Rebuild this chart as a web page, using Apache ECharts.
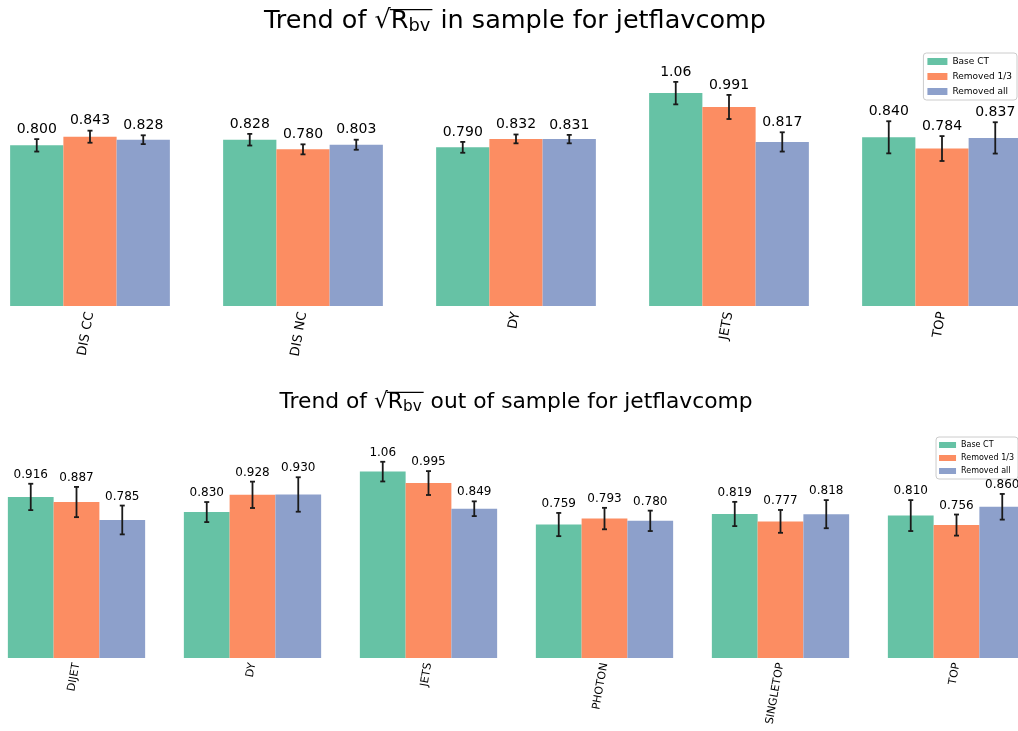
<!DOCTYPE html>
<html><head><meta charset="utf-8">
<script src="https://cdn.jsdelivr.net/npm/echarts@6/dist/echarts.min.js"></script>
<style>html,body{margin:0;padding:0;background:#fff;overflow:hidden;width:1018px;height:731px}
#c{position:absolute;left:-17px;top:0;width:1069px;height:731px}</style>
</head><body><div id="c"></div>
<script>
// ---------- data ----------
const seriesNames = ['Base CT', 'Removed 1/3', 'Removed all'];
const colors = ['#66c2a5', '#fc8d62', '#8da0cb'];

const inCategories = ['DIS CC', 'DIS NC', 'DY', 'JETS', 'TOP'];
const inBase   = [0.800, 0.828, 0.790, 1.06, 0.840];
const inRem13  = [0.843, 0.780, 0.832, 0.991, 0.784];
const inRemAll = [0.828, 0.803, 0.831, 0.817, 0.837];
const inBaseErr   = [0.031, 0.029, 0.027, 0.056, 0.080];
const inRem13Err  = [0.030, 0.025, 0.022, 0.060, 0.062];
const inRemAllErr = [0.022, 0.025, 0.021, 0.048, 0.078];

const outCategories = ['DIJET', 'DY', 'JETS', 'PHOTON', 'SINGLETOP', 'TOP'];
const outBase   = [0.916, 0.830, 1.06, 0.759, 0.819, 0.810];
const outRem13  = [0.887, 0.928, 0.995, 0.793, 0.777, 0.756];
const outRemAll = [0.785, 0.930, 0.849, 0.780, 0.818, 0.860];
const outBaseErr   = [0.075, 0.057, 0.056, 0.066, 0.069, 0.088];
const outRem13Err  = [0.086, 0.075, 0.068, 0.061, 0.065, 0.060];
const outRemAllErr = [0.082, 0.098, 0.042, 0.058, 0.080, 0.073];

const titleTop = ['Trend of ', ' in sample for jetflavcomp'];
const titleBottom = ['Trend of ', ' out of sample for jetflavcomp'];

// ---------- build ----------
const FONT = 'DejaVu Sans';
const OFF = 17; // container is shifted left by this amount
const chart = echarts.init(document.getElementById('c'));

const panels = [
  {vals: [inBase, inRem13, inRemAll], errs: [inBaseErr, inRem13Err, inRemAllErr], frac: 0.25, lblSize: 14},
  {vals: [outBase, outRem13, outRemAll], errs: [outBaseErr, outRem13Err, outRemAllErr], frac: 0.26, lblSize: 12}
];

function fmt(v) { return Number(v).toPrecision(3); }

function makeRender(frac, lblSize) {
  return function (params, api) {
    const ci = api.value(0), v = api.value(1), e = api.value(2), si = api.value(3);
    const cw = api.size([1, 0])[0];
    const bw = cw * frac;
    const c = api.coord([ci, v]);
    const x = c[0] + (si - 1) * bw;
    const yT = api.coord([ci, v + e])[1];
    const yB = api.coord([ci, v - e])[1];
    const st = {stroke: '#1a1a1a', lineWidth: 1.8};
    const cap = 2.5;
    return {type: 'group', children: [
      {type: 'line', shape: {x1: x, y1: yT, x2: x, y2: yB}, style: st},
      {type: 'line', shape: {x1: x - cap, y1: yT, x2: x + cap, y2: yT}, style: st},
      {type: 'line', shape: {x1: x - cap, y1: yB, x2: x + cap, y2: yB}, style: st},
      {type: 'text', x: x, y: yT - 3, style: {text: fmt(v), align: 'center', verticalAlign: 'bottom',
        fontSize: lblSize, fontFamily: FONT, fill: '#000'}}
    ]};
  };
}

const series = [];
panels.forEach((p, pi) => {
  p.vals.forEach((arr, si) => {
    series.push({
      type: 'bar', name: seriesNames[si], xAxisIndex: pi, yAxisIndex: pi,
      data: arr, barWidth: (p.frac * 100) + '%', barGap: '0%',
      itemStyle: {color: colors[si]}, emphasis: {disabled: true}
    });
  });
  const d = [];
  p.vals.forEach((arr, si) => arr.forEach((v, ci) => d.push([ci, v, p.errs[si][ci], si])));
  series.push({
    type: 'custom', name: 'err' + pi, xAxisIndex: pi, yAxisIndex: pi,
    data: d, encode: {x: 0, y: 1}, renderItem: makeRender(p.frac, p.lblSize), z: 5, clip: false
  });
});

// titles with sqrt + overline + subscript
const cv = document.createElement('canvas').getContext('2d');
function mw(t, s) { cv.font = s + 'px "' + FONT + '"'; return cv.measureText(t).width; }
function titleEls(parts, S, cx, y) {
  const sub = S * 0.7;
  const w0 = mw(parts[0], S), wr = mw('\u221A', S), wR = mw('R', S), wb = mw('bv', sub), w1 = mw(parts[1], S);
  const total = w0 + wr + wR + wb + 2 + w1;
  let x = cx - total / 2;
  const base = {fontFamily: FONT, fill: '#000', verticalAlign: 'top'};
  const els = [];
  els.push({type: 'text', x: x, y: y, style: Object.assign({text: parts[0], fontSize: S}, base)}); x += w0;
  els.push({type: 'text', x: x, y: y, style: Object.assign({text: '\u221A', fontSize: S}, base)}); x += wr;
  const ox = x;
  els.push({type: 'text', x: x, y: y, style: Object.assign({text: 'R', fontSize: S}, base)}); x += wR;
  els.push({type: 'text', x: x, y: y + S * 0.38, style: Object.assign({text: 'bv', fontSize: sub}, base)}); x += wb + 2;
  els.push({type: 'line', shape: {x1: ox - 1, y1: y + S * 0.06, x2: x, y2: y + S * 0.06}, style: {stroke: '#000', lineWidth: 1.3}});
  els.push({type: 'text', x: x, y: y, style: Object.assign({text: parts[1], fontSize: S}, base)});
  return els;
}

const graphic = [].concat(titleEls(titleTop, 25.5, 515 + OFF, 8), titleEls(titleBottom, 21.8, 516 + OFF, 391));

const option = {
  animation: false,
  backgroundColor: '#fff',
  graphic: graphic,
  legend: [
    {data: seriesNames, orient: 'vertical', right: 35, top: 53, itemWidth: 20, itemHeight: 7, itemGap: 6,
     icon: 'rect', textStyle: {fontSize: 9, fontFamily: FONT, color: '#000'},
     borderColor: '#cccccc', borderWidth: 1, borderRadius: 3, padding: [4, 5, 4, 4], backgroundColor: '#fff'},
    {data: seriesNames, orient: 'vertical', right: 34, top: 437, itemWidth: 17, itemHeight: 6, itemGap: 5,
     icon: 'rect', textStyle: {fontSize: 8, fontFamily: FONT, color: '#000'},
     borderColor: '#cccccc', borderWidth: 1, borderRadius: 3, padding: [4, 4, 4, 3], backgroundColor: '#fff'}
  ],
  grid: [
    {left: 0.5, right: 3.5, top: 65, bottom: 425},
    {left: 5.5, right: 7.5, top: 447, bottom: 73}
  ],
  xAxis: [
    {type: 'category', gridIndex: 0, data: inCategories, axisLine: {show: false}, axisTick: {show: false},
     axisLabel: {rotate: 80, interval: 0, fontSize: 13, fontFamily: FONT, color: '#000', margin: 6}},
    {type: 'category', gridIndex: 1, data: outCategories, axisLine: {show: false}, axisTick: {show: false},
     axisLabel: {rotate: 80, interval: 0, fontSize: 11, fontFamily: FONT, color: '#000', margin: 5}}
  ],
  yAxis: [
    {type: 'value', gridIndex: 0, min: 0, max: 1.2, show: false},
    {type: 'value', gridIndex: 1, min: 0, max: 1.2, show: false}
  ],
  series: series
};
chart.setOption(option);
</script></body></html>
